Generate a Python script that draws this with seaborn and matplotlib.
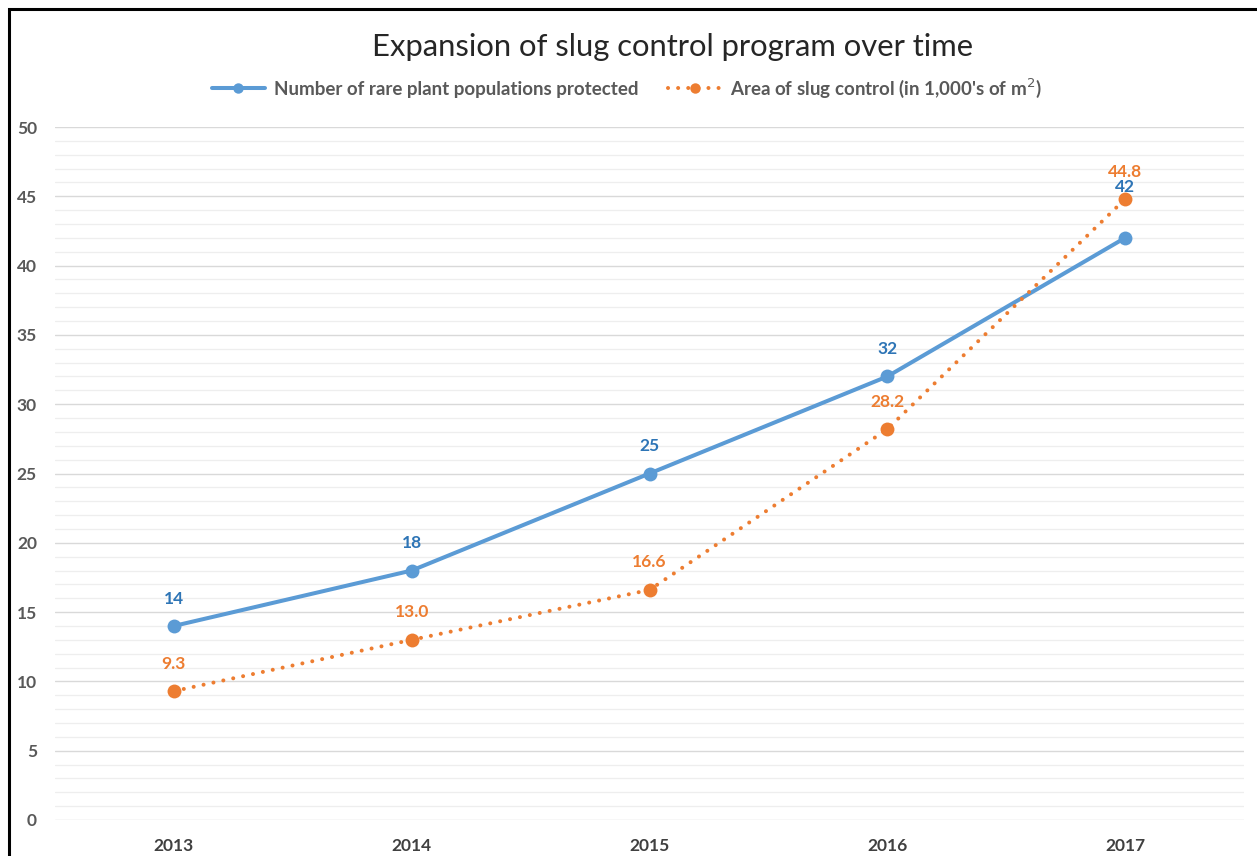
import matplotlib
matplotlib.use("Agg")
import matplotlib.pyplot as plt
import seaborn as sns
import pandas as pd
from matplotlib.patches import Rectangle
from matplotlib.ticker import MultipleLocator

years = ["2013", "2014", "2015", "2016", "2017"]
populations = [14, 18, 25, 32, 42]
area = [9.3, 13.0, 16.6, 28.2, 44.8]
s1 = "Number of rare plant populations protected"
s2 = "Area of slug control (in 1,000's of m$^2$)"

df = pd.DataFrame({
    "year": years * 2,
    "value": populations + area,
    "series": [s1] * len(years) + [s2] * len(years),
})

sns.set_theme(style="white")
plt.rcParams['font.family'] = ['Lato', 'DejaVu Sans']

W, H = 1257, 856
fig = plt.figure(figsize=(W / 100, H / 100), dpi=100)
ax = fig.add_axes([55 / W, 36 / H, (1244 - 55) / W, (820 - 127) / H])

blue = "#5B9BD5"
orange = "#ED7D31"
sns.lineplot(data=df, x="year", y="value", hue="series", style="series",
             palette={s1: blue, s2: orange},
             dashes={s1: "", s2: (0.01, 2.5)},
             markers={s1: "o", s2: "o"}, markersize=10, markeredgewidth=0,
             linewidth=2.9, ax=ax, sort=False, legend=True)
for ln in ax.lines:
    ln.set_dash_capstyle("round")
    ln.set_solid_capstyle("round")

ax.set_xlim(-0.5, 4.5)
ax.set_ylim(0, 50)
ax.yaxis.set_major_locator(MultipleLocator(5))
ax.yaxis.set_minor_locator(MultipleLocator(1))
ax.grid(which="major", axis="y", color="#D9D9D9", linewidth=1.0)
ax.grid(which="minor", axis="y", color="#EEEEEE", linewidth=0.9)
ax.set_axisbelow(True)
for sp in ax.spines.values():
    sp.set_visible(False)
ax.set_xlabel("")
ax.set_ylabel("")
ax.tick_params(axis="both", which="both", length=0)
ax.tick_params(axis="y", pad=13, labelsize=12.5, labelcolor="#595959")
ax.tick_params(axis="x", pad=13, labelsize=12.5, labelcolor="#404040")
for t in ax.get_yticklabels() + ax.get_xticklabels():
    t.set_fontweight("bold")

# data labels
for i, v in enumerate(populations):
    off = 14 if i < 4 else 31
    ax.annotate(f"{v}", (i, v), xytext=(0, off), textcoords="offset points",
                ha="center", va="bottom", fontsize=12.5, fontweight="bold", color="#2E75B6")
for i, v in enumerate(area):
    ax.annotate(f"{v:.1f}", (i, v), xytext=(0, 14), textcoords="offset points",
                ha="center", va="bottom", fontsize=12.5, fontweight="bold", color=orange)

handles, labels = ax.get_legend_handles_labels()
ax.get_legend().remove()
leg = fig.legend(handles, labels, loc="center", bbox_to_anchor=(627 / W, 1 - 88 / H),
                 ncol=2, frameon=False, fontsize=13.5, handlelength=2.8,
                 columnspacing=1.6, handletextpad=0.5, markerscale=0.75)
for t in leg.get_texts():
    t.set_fontweight("bold")
    t.set_color("#595959")

fig.text(673 / W, 1 - 47 / H, "Expansion of slug control program over time",
         ha="center", va="center", fontsize=22.3, color="#262626")

fig.patches.append(Rectangle((9 / W, -0.1), 1.2, 1 - 9 / H + 0.1,
                             transform=fig.transFigure, fill=False,
                             edgecolor="black", linewidth=2.2))

fig.savefig("out.png", dpi=100)
